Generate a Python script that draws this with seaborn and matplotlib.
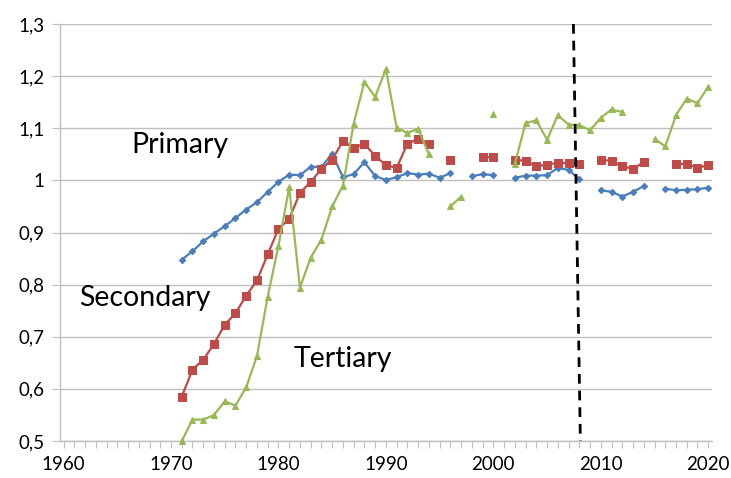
import numpy as np
import pandas as pd
import matplotlib
matplotlib.use("Agg")
import matplotlib.pyplot as plt
from matplotlib.ticker import FuncFormatter, MultipleLocator
import seaborn as sns

nan = np.nan
years = list(range(1971, 2021))

primary = [0.848, 0.864, 0.883, 0.898, 0.912, 0.928, 0.944, 0.958, 0.978, 0.997,
           1.011, 1.010, 1.026, 1.026, 1.051, 1.006, 1.012, 1.035, 1.008, 1.001,
           1.006, 1.014, 1.011, 1.013, 1.005, 1.014, nan, 1.008, 1.012, 1.010,
           nan, 1.005, 1.009, 1.009, 1.010, 1.024, 1.020, 1.002, nan, 0.981,
           0.978, 0.969, 0.978, 0.989, nan, 0.984, 0.981, 0.982, 0.983, 0.986]

secondary = [0.585, 0.637, 0.656, 0.686, 0.723, 0.745, 0.779, 0.808, 0.858, 0.907,
             0.926, 0.976, 0.997, 1.022, 1.040, 1.075, 1.063, 1.070, 1.047, 1.029,
             1.024, 1.070, 1.080, 1.070, nan, 1.040, nan, nan, 1.045, 1.045,
             nan, 1.040, 1.037, 1.027, 1.030, 1.034, 1.033, 1.032, nan, 1.040,
             1.037, 1.027, 1.022, 1.035, nan, nan, 1.031, 1.032, 1.024, 1.029]

tertiary = [0.500, 0.541, 0.541, 0.550, 0.576, 0.568, 0.603, 0.663, 0.777, 0.874,
            0.987, 0.794, 0.852, 0.886, 0.950, 0.990, 1.109, 1.189, 1.160, 1.214,
            1.101, 1.091, 1.099, 1.050, nan, 0.950, 0.969, nan, nan, 1.127,
            nan, 1.032, 1.110, 1.115, 1.078, 1.125, 1.107, 1.106, 1.096, 1.120,
            1.136, 1.131, nan, nan, 1.080, 1.065, 1.125, 1.157, 1.148, 1.180]

series_names = ["Primary", "Secondary", "Tertiary"]
y_ticks = [0.5, 0.6, 0.7, 0.8, 0.9, 1.0, 1.1, 1.2, 1.3]
x_ticks = [1960, 1970, 1980, 1990, 2000, 2010, 2020]

sns.set_theme(style="white")
plt.rcParams['font.family'] = ['Lato', 'DejaVu Sans']

fig = plt.figure(figsize=(7.31, 4.78), dpi=100)
ax = fig.add_axes([60 / 731, 1 - 441 / 478, 652 / 731, 417 / 478])

styles = {
    "Primary": dict(color="#4A7EBB", marker="D", markersize=3.2),
    "Secondary": dict(color="#BE4B48", marker="s", markersize=5.5),
    "Tertiary": dict(color="#98B954", marker="^", markersize=4.5),
}

for name, vals in zip(series_names, [primary, secondary, tertiary]):
    df = pd.DataFrame({"year": years, "value": vals})
    df["seg"] = df["value"].isna().cumsum()
    df = df.dropna()
    st = styles[name]
    sns.lineplot(data=df, x="year", y="value", units="seg", estimator=None,
                 color=st["color"], marker=st["marker"], markersize=st["markersize"],
                 markeredgecolor=st["color"], linewidth=1.6, ax=ax, legend=False,
                 clip_on=False, zorder=3)

# dashed vertical divider
ax.plot([2007.45, 2008.1], [1.3, 0.5], color="black", linestyle=(0, (3.5, 2.5)),
        linewidth=2.0, zorder=4, clip_on=False)

ax.set_xlim(1959.67, 2020.35)
ax.set_ylim(0.5, 1.3)
ax.set_yticks(y_ticks)
ax.set_xticks(x_ticks)
ax.xaxis.set_minor_locator(MultipleLocator(1))
ax.yaxis.set_major_formatter(FuncFormatter(
    lambda v, p: ("%g" % round(v, 1)).replace(".", ",")))
ax.set_xlabel("")
ax.set_ylabel("")

ax.grid(axis="y", color="#BFBFBF", linewidth=1.0)
ax.grid(axis="x", visible=False)
ax.set_axisbelow(True)
for s in ["top", "right"]:
    ax.spines[s].set_visible(False)
for s in ["left", "bottom"]:
    ax.spines[s].set_color("#BFBFBF")
    ax.spines[s].set_linewidth(1.0)

ax.tick_params(axis="x", which="both", direction="out", length=5, width=0.8,
               color="#BFBFBF", bottom=True, labelsize=13.5, pad=6, labelcolor="black")
ax.tick_params(axis="y", which="major", direction="out", length=6, width=0.8,
               color="#BFBFBF", left=True, labelsize=13.5, pad=5, labelcolor="black")

ax.text(1970.85, 1.067, "Primary", fontsize=20.5, ha="center", va="center", color="black")
ax.text(1967.55, 0.775, "Secondary", fontsize=20.5, ha="center", va="center", color="black")
ax.text(1986.0, 0.658, "Tertiary", fontsize=20.5, ha="center", va="center", color="black")

fig.savefig("out.png", dpi=100)
